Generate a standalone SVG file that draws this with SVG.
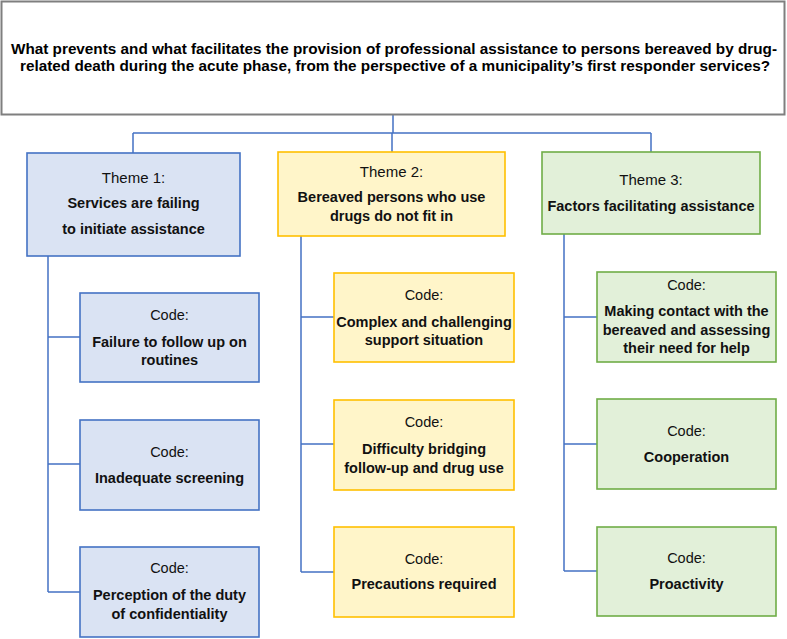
<svg xmlns="http://www.w3.org/2000/svg" width="787" height="639" viewBox="0 0 787 639">
<style>
text{font-family:"Liberation Sans",Arial,sans-serif;fill:#111;text-anchor:middle}
.r{font-size:14.5px}
.b{font-size:14.5px;font-weight:bold}
.t{font-size:15px;font-weight:bold;fill:#000}
.blue{fill:#dae3f3;stroke:#4472c4;stroke-width:1.6}
.yel{fill:#fff5c9;stroke:#ffc000;stroke-width:1.6}
.grn{fill:#e2f0d9;stroke:#70ad47;stroke-width:1.6}
.conn{fill:none;stroke:#4472c4;stroke-width:1.5}
</style>
<rect width="787" height="639" fill="#fff"/>
<g id="connectors" class="conn">
<path d="M393 115V133M133 133H651M133 133V153M392 133V152M651 133V152"/>
<path d="M48 256V592M48 337H80M48 464H80M48 592H80"/>
<path d="M301 236V572M301 317H334M301 444H334M301 572H334"/>
<path d="M564 234V571M564 317H597M564 444H597M564 571H597"/>
</g>
<g id="question">
<rect x="1.5" y="1.5" width="783" height="113" fill="#fff" stroke="#7f7f7f" stroke-width="2"/>
<text class="t" x="394" y="53.5" textLength="766" lengthAdjust="spacingAndGlyphs">What prevents and what facilitates the provision of professional assistance to persons bereaved by drug-</text>
<text class="t" x="395" y="70.5" textLength="750" lengthAdjust="spacingAndGlyphs">related death during the acute phase, from the perspective of a municipality’s first responder services?</text>
</g>
<g id="theme1">
<rect class="blue" x="27" y="153" width="213" height="103"/>
<text class="r" x="133.5" y="183" style="font-size:15px">Theme 1:</text>
<text class="b" x="133.5" y="208">Services are failing</text>
<text class="b" x="133.5" y="234">to initiate assistance</text>
</g>
<g id="theme2">
<rect class="yel" x="278" y="152" width="227" height="84"/>
<text class="r" x="391.5" y="177" style="font-size:15px">Theme 2:</text>
<text class="b" x="391.5" y="202">Bereaved persons who use</text>
<text class="b" x="391.5" y="221">drugs do not fit in</text>
</g>
<g id="theme3">
<rect class="grn" x="542" y="152" width="218" height="82"/>
<text class="r" x="651" y="185" style="font-size:15px">Theme 3:</text>
<text class="b" x="651" y="211">Factors facilitating assistance</text>
</g>
<g id="code1a">
<rect class="blue" x="80" y="293" width="179" height="89"/>
<text class="r" x="169.5" y="320">Code:</text>
<text class="b" x="169.5" y="347">Failure to follow up on</text>
<text class="b" x="169.5" y="365">routines</text>
</g>
<g id="code1b">
<rect class="blue" x="80" y="420" width="179" height="90"/>
<text class="r" x="169.5" y="457">Code:</text>
<text class="b" x="169.5" y="483">Inadequate screening</text>
</g>
<g id="code1c">
<rect class="blue" x="80" y="547" width="179" height="90"/>
<text class="r" x="169.5" y="573">Code:</text>
<text class="b" x="169.5" y="600">Perception of the duty</text>
<text class="b" x="169.5" y="619">of confidentiality</text>
</g>
<g id="code2a">
<rect class="yel" x="334" y="273" width="180" height="89"/>
<text class="r" x="424" y="300">Code:</text>
<text class="b" x="424" y="327">Complex and challenging</text>
<text class="b" x="424" y="345">support situation</text>
</g>
<g id="code2b">
<rect class="yel" x="334" y="400" width="180" height="90"/>
<text class="r" x="424" y="427">Code:</text>
<text class="b" x="424" y="454">Difficulty bridging</text>
<text class="b" x="424" y="473">follow-up and drug use</text>
</g>
<g id="code2c">
<rect class="yel" x="334" y="527" width="180" height="90"/>
<text class="r" x="424" y="564">Code:</text>
<text class="b" x="424" y="589">Precautions required</text>
</g>
<g id="code3a">
<rect class="grn" x="597" y="272" width="179" height="90"/>
<text class="r" x="686.5" y="290">Code:</text>
<text class="b" x="686.5" y="316">Making contact with the</text>
<text class="b" x="686.5" y="335">bereaved and assessing</text>
<text class="b" x="686.5" y="353">their need for help</text>
</g>
<g id="code3b">
<rect class="grn" x="597" y="399" width="179" height="90"/>
<text class="r" x="686.5" y="436">Code:</text>
<text class="b" x="686.5" y="462">Cooperation</text>
</g>
<g id="code3c">
<rect class="grn" x="597" y="527" width="179" height="89"/>
<text class="r" x="686.5" y="563">Code:</text>
<text class="b" x="686.5" y="589">Proactivity</text>
</g>
</svg>
